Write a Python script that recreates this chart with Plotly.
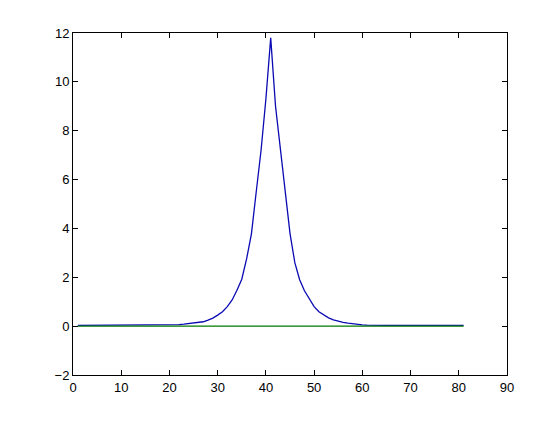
import plotly.graph_objects as go

# sample index 1..81
X = list(range(1, 82))

# peaked curve
PEAK = [
    0.03, 0.03, 0.03, 0.03, 0.03, 0.03, 0.03, 0.03, 0.03, 0.03,
    0.03, 0.03, 0.03, 0.03, 0.03, 0.04, 0.04, 0.04, 0.04, 0.04,
    0.05, 0.06, 0.08, 0.10, 0.12, 0.14, 0.18, 0.25, 0.33, 0.45,
    0.59, 0.80, 1.07, 1.47, 1.92, 2.75, 3.78, 5.50, 7.20, 9.30,
    11.80,
    9.00, 7.25, 5.50, 3.80, 2.60, 1.90, 1.45, 1.10, 0.80, 0.59,
    0.46, 0.34, 0.26, 0.20, 0.15, 0.12, 0.09, 0.07, 0.05, 0.04,
    0.03, 0.03, 0.03, 0.03, 0.03, 0.03, 0.03, 0.03, 0.03, 0.03,
    0.03, 0.03, 0.03, 0.03, 0.03, 0.03, 0.03, 0.03, 0.03, 0.03,
]

# flat baseline
BASE = [0.0] * len(X)

X_TICKS = [0, 10, 20, 30, 40, 50, 60, 70, 80, 90]
Y_TICKS = [-2, 0, 2, 4, 6, 8, 10, 12]

fig = go.Figure()
fig.add_trace(go.Scatter(x=X, y=PEAK, mode="lines",
                         line=dict(color="#0A0AB4", width=1.3)))
fig.add_trace(go.Scatter(x=X, y=BASE, mode="lines",
                         line=dict(color="#007A00", width=1.2)))

axis_style = dict(
    showline=True, linecolor="black", linewidth=1, mirror="allticks",
    ticks="inside", ticklen=5, tickcolor="black", tickwidth=1,
    showgrid=False, zeroline=False,
    tickfont=dict(family="Liberation Sans, Arial, sans-serif", size=13, color="black"),
)

# page body adds an 8px offset, so margins are shifted to land the axes
# where the reference has them
fig.update_layout(
    width=560, height=421,
    margin=dict(l=65, r=61, t=25, b=54),
    paper_bgcolor="white", plot_bgcolor="white",
    showlegend=False,
    xaxis=dict(range=[0, 90], tickvals=X_TICKS, **axis_style),
    yaxis=dict(range=[-2, 12], tickvals=Y_TICKS, **axis_style),
)

fig.write_html("out.html")
